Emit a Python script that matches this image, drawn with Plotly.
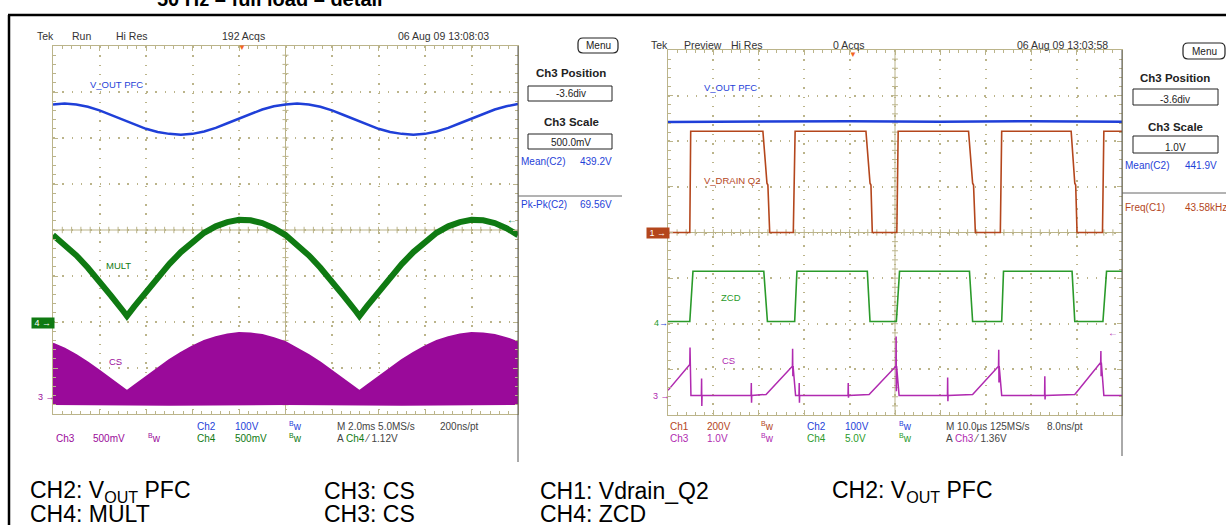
import plotly.graph_objects as go

W, H = 1226, 525

# ---------------- left screen : 2 ms/div, y in screen divisions (centre = 0)
left_t = [0, 0.5, 1, 1.5, 2, 2.5, 3, 3.5, 4, 4.5, 5, 5.5, 6, 6.5, 7, 7.5, 8, 8.5, 9, 9.5, 10,
          10.5, 11, 11.5, 12, 12.5, 13, 13.5, 14, 14.5, 15, 15.5, 16, 16.5, 17, 17.5, 18, 18.5, 19, 19.5, 20]
left_vout = [2.73, 2.75, 2.73, 2.68, 2.60, 2.50, 2.40, 2.30, 2.20, 2.13, 2.09, 2.07, 2.09, 2.14, 2.22, 2.32,
             2.42, 2.53, 2.62, 2.69, 2.73, 2.75, 2.73, 2.68, 2.60, 2.50, 2.40, 2.30, 2.20, 2.13, 2.09, 2.07,
             2.09, 2.14, 2.22, 2.32, 2.42, 2.53, 2.62, 2.69, 2.74]

left_mult_t = [0, 0.5, 1, 1.5, 2, 2.5, 3, 3.18, 3.5, 4, 4.5, 5, 5.5, 6, 6.5, 7, 7.5, 8, 8.5, 9, 9.5, 10,
               10.5, 11, 11.5, 12, 12.5, 13, 13.18, 13.5, 14, 14.5, 15, 15.5, 16, 16.5, 17, 17.5, 18, 18.5,
               19, 19.5, 20]
left_mult = [-0.11, -0.31, -0.55, -0.82, -1.11, -1.43, -1.75, -1.87, -1.66, -1.34, -1.03, -0.74, -0.48,
             -0.25, -0.06, 0.08, 0.17, 0.22, 0.21, 0.15, 0.04, -0.11,
             -0.31, -0.55, -0.82, -1.11, -1.43, -1.75, -1.87, -1.66, -1.34, -1.03, -0.74, -0.48, -0.25,
             -0.06, 0.08, 0.17, 0.22, 0.21, 0.15, 0.04, -0.11]
left_cs_top = [-2.47, -2.58, -2.72, -2.88, -3.06, -3.25, -3.43, -3.50, -3.38, -3.19, -3.00, -2.83, -2.67,
               -2.53, -2.41, -2.33, -2.27, -2.24, -2.25, -2.28, -2.35, -2.44,
               -2.58, -2.72, -2.88, -3.06, -3.25, -3.43, -3.50, -3.38, -3.19, -3.00, -2.83, -2.67, -2.53,
               -2.41, -2.33, -2.27, -2.24, -2.25, -2.28, -2.35, -2.44]
left_cs_floor_t = [0, 5, 10, 15, 20]
left_cs_floor = [-3.77, -3.79, -3.77, -3.79, -3.77]

# ---------------- right screen : 10 us/div
right_vout_t = [0, 20, 40, 60, 80, 100]
right_vout = [2.42, 2.43, 2.44, 2.43, 2.44, 2.43]

right_drain_t = [0, 4.8, 5.0, 20.9, 21.4, 21.8, 22.0, 22.4, 27.6, 28.0, 43.6, 44.1, 44.5, 44.7, 45.0, 50.4,
                 50.7, 66.2, 66.7, 67.1, 67.3, 67.7, 73.2, 73.5, 88.8, 89.3, 89.6, 89.8, 90.1, 95.7, 96.0, 100]
right_drain = [0, 0, 2.22, 2.22, 1.59, 1.08, 1.04, 0, 0, 2.22, 2.22, 1.59, 1.08, 1.04, 0, 0,
               2.22, 2.22, 1.59, 1.08, 1.04, 0, 0, 2.22, 2.22, 1.59, 1.08, 1.04, 0, 0, 2.22, 2.22]

right_zcd_t = [0, 4.8, 5.5, 21.1, 21.9, 27.9, 28.4, 43.9, 44.5, 50.3, 51.0, 66.4, 67.1, 73.5, 73.9, 89.0,
               89.6, 95.8, 96.6, 100]
right_zcd = [-1.95, -1.95, -0.85, -0.85, -1.95, -1.95, -0.85, -0.85, -1.95, -1.95, -0.85, -0.85, -1.95,
             -1.95, -0.85, -0.85, -1.95, -1.95, -0.85, -0.85]

right_cs_t = [0, 4.8, 4.85, 4.9, 4.95, 5.05,
              7.35, 7.4, 7.45, 7.5,
              18.3, 18.35, 18.4, 18.45,
              21.6, 27.4, 27.45, 27.5, 27.55, 28.1,
              28.85, 28.9, 28.95, 29.0,
              39.65, 39.7, 39.75, 39.8,
              44.3, 50.2, 50.25, 50.3, 50.35, 50.9,
              61.55, 61.6, 61.65, 61.7,
              67.1, 72.8, 72.85, 72.9, 72.95, 73.5,
              82.95, 83.0, 83.05, 83.1,
              89.6, 95.3, 95.35, 95.4, 95.45, 96.0, 100]
right_cs = [-3.46, -2.89, -2.52, -3.16, -2.90, -3.57,
            -3.57, -3.20, -3.80, -3.57,
            -3.57, -3.30, -3.73, -3.57,
            -3.55, -2.93, -2.55, -3.15, -2.93, -3.57,
            -3.57, -3.30, -3.73, -3.57,
            -3.57, -3.30, -3.62, -3.57,
            -3.55, -2.93, -2.28, -3.48, -2.93, -3.57,
            -3.57, -3.18, -3.70, -3.57,
            -3.55, -2.93, -2.57, -3.29, -2.93, -3.57,
            -3.57, -3.15, -3.66, -3.57,
            -3.55, -2.85, -2.60, -3.15, -2.85, -3.57, -3.57]

GRAT = "#bbb48a"
BLUE = "#1f3fd8"
GREEN = "#0f7a12"
GREEN2 = "#2a9a2a"
MAG = "#9a0a9a"
MAG2 = "#b02ab0"
ORANGE = "#b4461c"
GRAY = "#444444"
SCOPE_FONT = "Liberation Sans Narrow, Arial Narrow, Liberation Sans, Arial"


def px(x, y):
    return x / W, 1 - y / H


fig = go.Figure()
fig.add_trace(go.Scatter(x=left_t, y=left_vout, mode="lines", line=dict(color=BLUE, width=2.5)))
fig.add_trace(go.Scatter(x=left_mult_t, y=left_mult, mode="lines", line=dict(color=GREEN, width=6)))
fig.add_trace(go.Scatter(x=left_cs_floor_t, y=left_cs_floor, mode="lines", line=dict(color=MAG, width=3)))
fig.add_trace(go.Scatter(x=left_mult_t, y=left_cs_top, mode="lines", fill="tonexty", fillcolor=MAG,
                         line=dict(color=MAG, width=2)))

fig.add_trace(go.Scatter(x=right_vout_t, y=right_vout, mode="lines", line=dict(color=BLUE, width=2.5),
                         xaxis="x2", yaxis="y2"))
fig.add_trace(go.Scatter(x=right_drain_t, y=right_drain, mode="lines", line=dict(color=ORANGE, width=1.6),
                         xaxis="x2", yaxis="y2"))
fig.add_trace(go.Scatter(x=right_zcd_t, y=right_zcd, mode="lines", line=dict(color=GREEN2, width=1.6),
                         xaxis="x2", yaxis="y2"))
fig.add_trace(go.Scatter(x=right_cs_t, y=right_cs, mode="lines", line=dict(color=MAG2, width=1.5),
                         xaxis="x2", yaxis="y2"))


def axis(domain, rng, dtick, minor, anchor):
    return dict(domain=domain, range=rng, dtick=dtick, tick0=0, showgrid=True, gridcolor=GRAT,
                griddash="1.5px,7.8px", gridwidth=1.5, showline=True, linecolor=GRAT, linewidth=1,
                mirror="allticks", ticks="inside", ticklen=5, tickcolor=GRAT,
                minor=dict(dtick=minor, tick0=0, ticks="inside", ticklen=3, tickcolor=GRAT, showgrid=False),
                showticklabels=False, zeroline=False, anchor=anchor, fixedrange=True)


shapes = []
# centre cross with small ticks
for xr, yr, tmax, tc, tstep, tlen in [("x", "y", 20, 10, 0.4, 0.13), ("x2", "y2", 100, 50, 2, 0.65)]:
    shapes.append(dict(type="line", xref=xr, yref=yr, x0=0, x1=tmax, y0=0, y1=0, layer="below",
                       line=dict(color=GRAT, width=1)))
    shapes.append(dict(type="line", xref=xr, yref=yr, x0=tc, x1=tc, y0=-4, y1=4, layer="below",
                       line=dict(color=GRAT, width=1)))
    for k in range(1, 50):
        shapes.append(dict(type="line", xref=xr, yref=yr, x0=k * tstep, x1=k * tstep, y0=-0.07, y1=0.07,
                           layer="below", line=dict(color=GRAT, width=1)))
    for k in range(1, 40):
        shapes.append(dict(type="line", xref=xr, yref=yr, x0=tc - tlen, x1=tc + tlen, y0=-4 + k * 0.2,
                           y1=-4 + k * 0.2, layer="below", line=dict(color=GRAT, width=1)))


def pline(x0, y0, x1, y1, color, width):
    a, b = px(x0, y0)
    c, d = px(x1, y1)
    shapes.append(dict(type="line", xref="paper", yref="paper", x0=a, y0=b, x1=c, y1=d,
                       line=dict(color=color, width=width)))


def prect(x0, y0, x1, y1, color="#222", width=1):
    a, b = px(x0, y0)
    c, d = px(x1, y1)
    shapes.append(dict(type="rect", xref="paper", yref="paper", x0=a, y0=b, x1=c, y1=d,
                       line=dict(color=color, width=width), fillcolor="white"))


def menu(x0, y0, x1, y1):
    r = 5
    pts = [("M", x0 + r, y0), ("L", x1 - r, y0), ("Q", x1, y0, x1, y0 + r), ("L", x1, y1 - r),
           ("Q", x1, y1, x1 - r, y1), ("L", x0 + r, y1), ("Q", x0, y1, x0, y1 - r), ("L", x0, y0 + r),
           ("Q", x0, y0, x0 + r, y0)]
    path = ""
    for p in pts:
        coords = []
        for i in range(1, len(p), 2):
            a, b = px(p[i], p[i + 1])
            coords.append("%.5f,%.5f" % (a, b))
        path += p[0] + " " + " ".join(coords) + " "
    shapes.append(dict(type="path", xref="paper", yref="paper", path=path + "Z",
                       line=dict(color="#222", width=1.2), fillcolor="white"))


# page frame
pline(9, 15, 9, 525, "black", 2.5)
pline(8, 15, 1226, 15, "black", 2.5)
# display borders
pline(518, 46, 518, 462, "#555", 1)
pline(1122, 50, 1122, 456, "#555", 1)
# side panels
menu(578, 38, 618, 53)
menu(1183, 43, 1225, 59)
prect(528, 86, 612, 101)
prect(528, 134, 612, 149)
prect(1133, 89, 1218, 105)
prect(1133, 136, 1218, 153)
pline(518, 196, 622, 196, "#666", 1)
pline(1122, 193, 1226, 193, "#666", 1)

ann = []


def txt(s, x, y, color=GRAY, size=10, anchor="left", family=SCOPE_FONT, bg=None):
    a, b = px(x, y)
    d = dict(text=s, x=a, y=b, xref="paper", yref="paper", xanchor=anchor, yanchor="middle",
             showarrow=False, font=dict(color=color, size=size, family=family))
    if bg:
        d["bgcolor"] = bg
        d["borderpad"] = 0
    ann.append(d)


# headers
for s, x in [("Tek", 35), ("Run", 70), ("Hi Res", 114), ("192 Acqs", 220), ("06 Aug 09 13:08:03", 396)]:
    txt(s, x, 36, "#333", 10.5)
for s, x in [("Tek", 649), ("Preview", 682), ("Hi Res", 729), ("0 Acqs", 831), ("06 Aug 09 13:03:58", 1015)]:
    txt(s, x, 45, "#333", 10.5)
txt("▼", 242, 48, "#f26522", 8, "center")
txt("▼", 853, 54, "#f26522", 8, "center")

# trace labels
txt("V_OUT PFC", 88, 84, BLUE, 9.5)
txt("MULT", 104, 265, GREEN, 9.5)
txt("CS", 107, 361, MAG, 9.5)
txt("V_OUT PFC", 702, 88, BLUE, 9.5)
txt("V_DRAIN Q2", 702, 180, ORANGE, 9.5)
txt("ZCD", 719, 297, GREEN2, 9.5)
txt("CS", 720, 360, MAG2, 9.5)

# channel markers
txt(" 4 → ", 43, 323, "white", 9, "center", bg=GREEN)
txt("3 →", 46, 397, MAG, 9, "center")
txt("←", 512, 219, GREEN, 10, "center")
txt(" 1 → ", 658, 233, "white", 9, "center", bg=ORANGE)
txt("<span style='color:%s'>4</span><span style='color:%s'>→</span>" % (GREEN2, BLUE), 661, 323,
    GREEN2, 9, "center")
txt("3 →", 661, 396, MAG2, 9, "center")
txt("←", 1113, 333, MAG2, 10, "center")

# side panels
txt("Menu", 598, 46, "#222", 10, "center")
txt("Menu", 1204, 51, "#222", 10, "center")
for cx, y0, pos, sc in [(571, 73, "-3.6div", "500.0mV"), (1175, 78, "-3.6div", "1.0V")]:
    txt("<b>Ch3 Position</b>", cx, y0, "#222", 11.5, "center", "Liberation Sans, Arial")
    txt(pos, cx, y0 + 21, "#222", 10, "center")
    txt("<b>Ch3 Scale</b>", cx, y0 + 49, "#222", 11.5, "center", "Liberation Sans, Arial")
    txt(sc, cx, y0 + 69, "#222", 10, "center")
txt("Mean(C2)", 519, 162, BLUE, 10)
txt("439.2V", 578, 162, BLUE, 10)
txt("Pk-Pk(C2)", 519, 205, BLUE, 10)
txt("69.56V", 578, 205, BLUE, 10)
txt("Mean(C2)", 1123, 165, BLUE, 10)
txt("441.9V", 1183, 165, BLUE, 10)
txt("Freq(C1)", 1123, 207, ORANGE, 10)
txt("43.58kHz", 1183, 207, ORANGE, 10)

# bottom status lines
BW = "<sup>B</sup>w"
r1, r2 = 426, 438
txt("Ch2", 195, r1, BLUE); txt("100V", 233, r1, BLUE); txt(BW, 287, r1, BLUE)
txt("M 2.0ms 5.0MS/s", 335, r1); txt("200ns/pt", 438, r1)
txt("Ch3", 54, r2, MAG); txt("500mV", 91, r2, MAG); txt(BW, 146, r2, MAG)
txt("Ch4", 195, r2, GREEN); txt("500mV", 233, r2, GREEN); txt(BW, 287, r2, GREEN)
txt("A <span style='color:%s'>Ch4</span> ⁄ 1.12V" % GREEN, 335, r2)

txt("Ch1", 668, r1, ORANGE); txt("200V", 705, r1, ORANGE); txt(BW, 759, r1, ORANGE)
txt("Ch2", 805, r1, BLUE); txt("100V", 843, r1, BLUE); txt(BW, 897, r1, BLUE)
txt("M 10.0µs 125MS/s", 944, r1); txt("8.0ns/pt", 1045, r1)
txt("Ch3", 668, r2, MAG2); txt("1.0V", 705, r2, MAG2); txt(BW, 759, r2, MAG2)
txt("Ch4", 805, r2, GREEN2); txt("5.0V", 843, r2, GREEN2); txt(BW, 897, r2, GREEN2)
txt("A <span style='color:%s'>Ch3</span> ⁄ 1.36V" % MAG2, 944, r2)

# captions
CAP = "Liberation Sans, Arial"
for s, x, y in [("CH2: V<sub>OUT</sub> PFC", 28, 491), ("CH3: CS", 322, 491), ("CH1: Vdrain_Q2", 538, 491),
                ("CH2: V<sub>OUT</sub> PFC", 830, 491), ("CH4: MULT", 28, 514), ("CH3: CS", 322, 514),
                ("CH4: ZCD", 538, 514)]:
    txt(s, x, y, "black", 23, "left", CAP)

# title, cut by the top edge
txt("<b>50 Hz – full load – detail</b>", 270, -1, "black", 20, "center", CAP)

fig.update_layout(
    width=W, height=H, margin=dict(l=0, r=0, t=0, b=0), paper_bgcolor="white", plot_bgcolor="white",
    showlegend=False, shapes=shapes, annotations=ann,
    xaxis=axis([53 / W, 518 / W], [0, 20], 2, 0.4, "y"),
    yaxis=axis([1 - 414 / H, 1 - 46 / H], [-4, 4], 1, 0.2, "x"),
    xaxis2=axis([668 / W, 1122 / W], [0, 100], 10, 2, "y2"),
    yaxis2=axis([1 - 415 / H, 1 - 50 / H], [-4, 4], 1, 0.2, "x2"),
)
# the page body keeps a default 8px margin; drop it so the figure starts at the corner
fig.write_html("out.html", config={"displayModeBar": False},
               post_script="document.body.style.margin='0';document.body.style.overflow='hidden';")
